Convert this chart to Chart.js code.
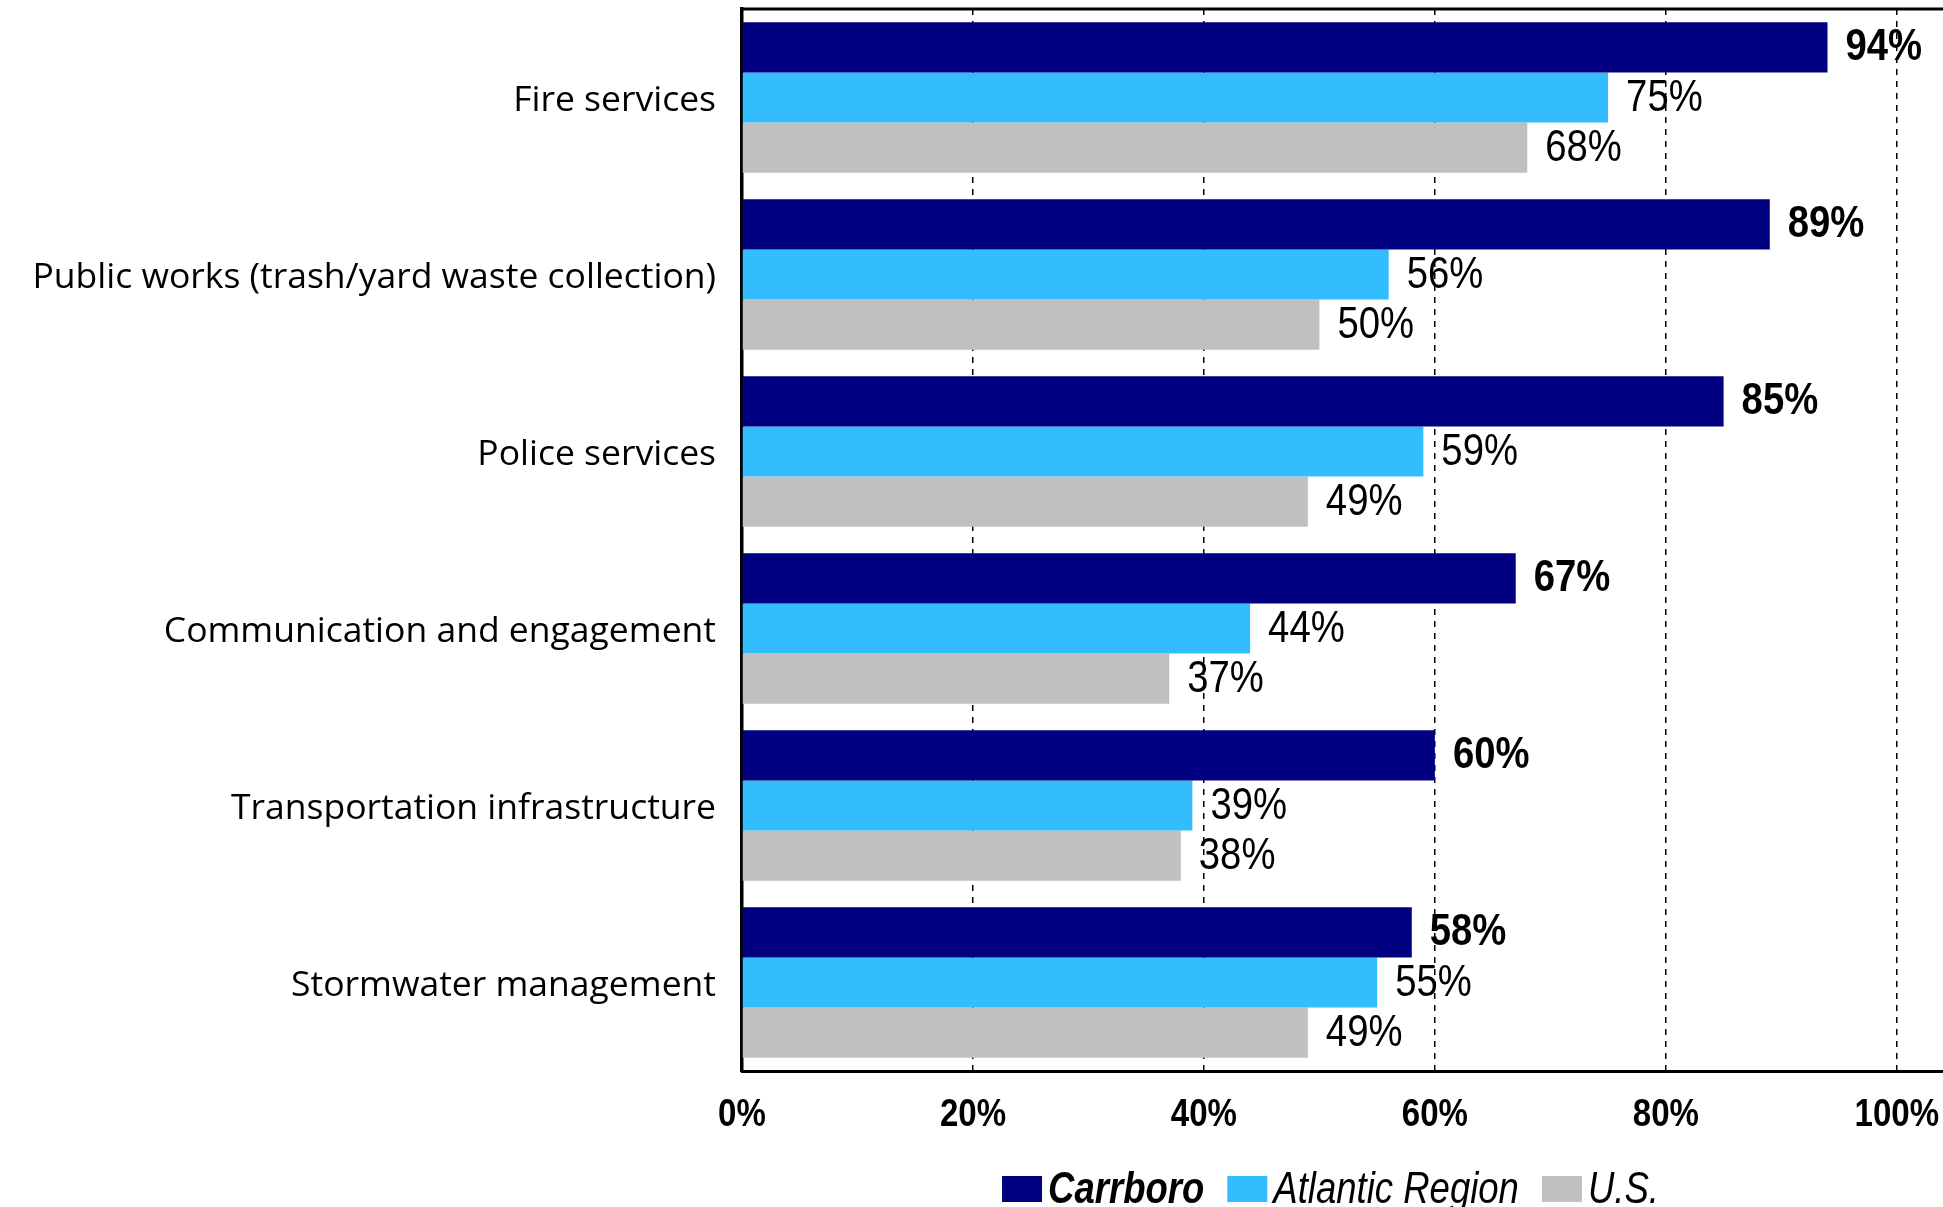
<!DOCTYPE html>
<html>
<head>
<meta charset="utf-8">
<script src="https://cdn.jsdelivr.net/npm/chart.js@4/dist/chart.umd.min.js"></script>
<style>
  html, body { margin: 0; padding: 0; background: #fff; overflow: hidden; }
  #wrap { width: 1943px; height: 1207px; position: relative; }
</style>
</head>
<body>
<div id="wrap"><canvas id="ratingsChart"></canvas></div>
<script>
const categories = [
  'Fire services',
  'Public works (trash/yard waste collection)',
  'Police services',
  'Communication and engagement',
  'Transportation infrastructure',
  'Stormwater management'
];
const seriesNames = ['Carrboro', 'Atlantic Region', 'U.S.'];
const carrboro = [94, 89, 85, 67, 60, 58];
const atlantic = [75, 56, 59, 44, 39, 55];
const usValues = [68, 50, 49, 37, 38, 49];
const xTicks = [0, 20, 40, 60, 80, 100];

const colors = ['#000080', '#33BCFE', '#C0C0C0'];
const sans = '"Liberation Sans", Arial, sans-serif';
const squeeze = 0.87; // the original uses a condensed face

function narrowText(ctx, text, x, y, align, sx) {
  ctx.save();
  ctx.translate(x, y);
  ctx.scale(sx || squeeze, 1);
  ctx.textAlign = align;
  ctx.fillText(text, 0, 0);
  ctx.restore();
}

// value labels at the end of each bar, bold for the first series
const barLabels = {
  id: 'barLabels',
  afterDatasetsDraw(chart) {
    const ctx = chart.ctx;
    ctx.save();
    ctx.fillStyle = '#000';
    ctx.textBaseline = 'middle';
    chart.data.datasets.forEach((ds, i) => {
      const meta = chart.getDatasetMeta(i);
      ctx.font = (i === 0 ? 'bold ' : '') + '44px ' + sans;
      meta.data.forEach((bar, j) => {
        narrowText(ctx, ds.data[j] + '%', bar.x + 18, bar.y + 1, 'left');
      });
    });
    ctx.restore();
  }
};

// top frame line, x tick labels and legend under the axis
const frameAndLegend = {
  id: 'frameAndLegend',
  afterDraw(chart) {
    const ctx = chart.ctx;
    const a = chart.chartArea;
    const xs = chart.scales.x;
    ctx.save();
    ctx.strokeStyle = '#000';
    ctx.lineWidth = 3;
    ctx.beginPath();
    ctx.moveTo(a.left - 1.5, a.top);
    ctx.lineTo(a.right, a.top);
    ctx.stroke();

    ctx.fillStyle = '#000';
    ctx.textBaseline = 'middle';
    ctx.font = 'bold 38px ' + sans;
    xs.ticks.forEach(t => {
      narrowText(ctx, t.value + '%', xs.getPixelForValue(t.value), a.bottom + 45, 'center');
    });

    const legSqueeze = 0.83;
    const boxW = 40, boxH = 26, gap = 6, itemGap = 23;
    const fonts = chart.data.datasets.map((ds, i) => (i === 0 ? 'italic bold ' : 'italic ') + '44px ' + sans);
    let total = 0;
    const widths = chart.data.datasets.map((ds, i) => {
      ctx.font = fonts[i];
      const w = ctx.measureText(ds.label).width * legSqueeze;
      total += boxW + gap + w;
      return w;
    });
    total += itemGap * (widths.length - 1);
    let x = (a.left + a.right) / 2 - total / 2 - 12;
    const y = a.bottom + 120;
    chart.data.datasets.forEach((ds, i) => {
      ctx.fillStyle = ds.backgroundColor;
      ctx.fillRect(x, y - boxH / 2 - 2, boxW, boxH);
      x += boxW + gap;
      ctx.font = fonts[i];
      ctx.fillStyle = '#000';
      narrowText(ctx, ds.label, x, y, 'left', legSqueeze);
      x += widths[i] + itemGap;
    });
    ctx.restore();
  }
};

new Chart(document.getElementById('ratingsChart').getContext('2d'), {
  type: 'bar',
  data: {
    labels: categories,
    datasets: [
      { label: seriesNames[0], data: carrboro, backgroundColor: colors[0] },
      { label: seriesNames[1], data: atlantic, backgroundColor: colors[1] },
      { label: seriesNames[2], data: usValues, backgroundColor: colors[2] }
    ]
  },
  options: {
    indexAxis: 'y',
    responsive: true,
    maintainAspectRatio: false,
    animation: false,
    layout: { padding: { top: 9, left: 0, right: 0, bottom: 61 } },
    datasets: { bar: { categoryPercentage: 0.85, barPercentage: 1.0 } },
    plugins: {
      legend: { display: false },
      tooltip: { enabled: false }
    },
    scales: {
      x: {
        min: 0,
        max: 104,
        afterBuildTicks: s => { s.ticks = xTicks.map(v => ({ value: v })); },
        afterFit: s => {
          s.height = 75;
          s.paddingLeft = s.paddingRight = s.paddingTop = s.paddingBottom = 0;
        },
        ticks: { display: false },
        grid: { color: '#000', lineWidth: 1.5, drawTicks: false },
        border: { display: true, color: '#000', width: 3, dash: [6, 6] }
      },
      y: {
        afterFit: s => {
          s.width = 742;
          s.paddingLeft = s.paddingRight = s.paddingTop = s.paddingBottom = 0;
        },
        ticks: {
          color: '#000',
          padding: 18,
          labelOffset: 3,
          font: { family: '"Open Sans", sans-serif', size: 35.5 }
        },
        grid: { display: false },
        border: { display: true, color: '#000', width: 3.5 }
      }
    }
  },
  plugins: [barLabels, frameAndLegend]
});
</script>
</body>
</html>
